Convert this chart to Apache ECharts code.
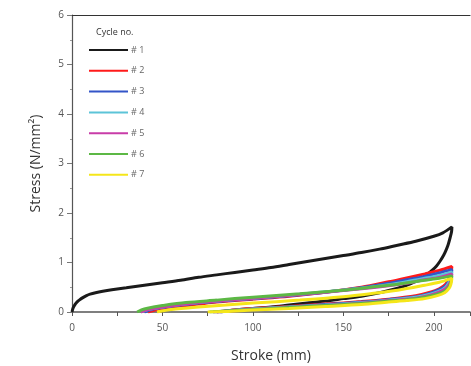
<!DOCTYPE html>
<html><head><meta charset="utf-8">
<script src="https://cdn.jsdelivr.net/npm/echarts@6/dist/echarts.min.js"></script>
<style>html,body{margin:0;padding:0;background:#fff}#c{width:471px;height:366px}</style>
</head><body><div id="c"></div>
<script>
var cycleNames = ['# 1','# 2','# 3','# 4','# 5','# 6','# 7'];
var cycleColors = ['#1a1a1a','#ff1a1a','#3355c8','#5cc4d8','#c83ca8','#5cb845','#f5e61a'];
var xTicks = [0,50,100,150,200];
var yTicks = [0,1,2,3,4,5,6];

var cycle1 = [[0,0],[0.5,0.07],[1,0.11],[2,0.17],[3,0.21],[4,0.24],[6,0.29],[8,0.33],[10,0.36],[13,0.39],[17,0.42],[22,0.45],[30,0.49],[40,0.54],[50,0.59],[60,0.64],[70,0.7],[80,0.75],[90,0.8],[100,0.85],[110,0.9],[120,0.96],[130,1.02],[140,1.08],[150,1.14],[160,1.2],[170,1.27],[180,1.35],[190,1.43],[200,1.53],[205,1.6],[210,1.72],
  [209.8,1.62],[209,1.5],[208,1.37],[207,1.27],[205.5,1.15],[203.5,1.03],[201.5,0.93],[199,0.84],[196,0.75],[192,0.66],[187,0.57],[180,0.48],[170,0.39],[160,0.32],[150,0.27],[140,0.22],[130,0.18],[120,0.14],[110,0.1],[100,0.07],[90,0.04],[82,0]];
var cycle2 = [[42,0],[46,0.04],[50,0.07],[60,0.12],[70,0.16],[80,0.2],[100,0.26],[120,0.32],[140,0.4],[160,0.5],[175,0.61],[185,0.69],[195,0.77],[203,0.84],[210,0.92],
  [209.5,0.8],[208.5,0.68],[206.5,0.56],[203,0.47],[198,0.4],[190,0.33],[175,0.26],[160,0.21],[140,0.16],[120,0.11],[100,0.07],[90,0.04],[80,0]];
var cycle3 = [[40,0],[44,0.05],[50,0.09],[60,0.14],[70,0.18],[80,0.21],[100,0.27],[120,0.33],[140,0.4],[160,0.49],[175,0.58],[185,0.65],[195,0.72],[203,0.79],[210,0.86],
  [209.5,0.75],[208.5,0.64],[206.5,0.53],[203,0.45],[198,0.38],[190,0.31],[175,0.25],[160,0.2],[140,0.15],[120,0.1],[100,0.06],[90,0.03],[80,0]];
var cycle4 = [[38,0],[42,0.05],[50,0.1],[60,0.15],[70,0.19],[80,0.22],[100,0.28],[120,0.34],[140,0.41],[160,0.48],[175,0.55],[185,0.61],[195,0.68],[203,0.74],[210,0.81],
  [209.5,0.7],[208.5,0.6],[206.5,0.5],[203,0.42],[198,0.36],[190,0.3],[175,0.24],[160,0.19],[140,0.14],[120,0.1],[100,0.06],[88,0.03],[78,0]];
var cycle5 = [[38,0],[42,0.05],[50,0.1],[60,0.15],[70,0.19],[80,0.22],[100,0.28],[120,0.34],[140,0.4],[160,0.47],[175,0.53],[185,0.58],[195,0.65],[203,0.7],[210,0.77],
  [209.5,0.66],[208.5,0.56],[206.5,0.47],[203,0.4],[198,0.34],[190,0.28],[175,0.23],[160,0.18],[140,0.13],[120,0.09],[100,0.05],[88,0.02],[78,0]];
var cycle6 = [[36,0],[40,0.06],[45,0.1],[50,0.13],[63,0.19],[80,0.24],[100,0.3],[126,0.37],[150,0.44],[165,0.5],[180,0.56],[195,0.64],[203,0.68],[210,0.73],
  [209.5,0.62],[208.5,0.52],[206,0.42],[202,0.36],[195,0.3],[185,0.25],[175,0.22],[160,0.17],[140,0.13],[120,0.09],[100,0.05],[85,0.02],[76,0]];
var cycle7 = [[47,0],[55,0.05],[70,0.1],[85,0.14],[100,0.18],[126,0.24],[150,0.31],[165,0.37],[180,0.44],[195,0.54],[203,0.6],[210,0.68],
  [209.5,0.57],[208.5,0.48],[206,0.39],[202,0.33],[195,0.27],[185,0.23],[175,0.2],[160,0.15],[140,0.11],[120,0.07],[100,0.04],[85,0.01],[75,0]];
var cycles = [cycle1,cycle2,cycle3,cycle4,cycle5,cycle6,cycle7];

var font = 'Open Sans';
var chart = echarts.init(document.getElementById('c'), null, {renderer:'canvas'});
chart.setOption({
  animation:false,
  backgroundColor:'#fff',
  title:{text:'Cycle no.', left:96, top:28, padding:0, textStyle:{fontSize:9, fontWeight:'normal', color:'#333', fontFamily:font}},
  legend:{
    orient:'vertical', left:89, top:44, padding:0, itemWidth:39, itemHeight:2, itemGap:8.8,
    icon:'rect',
    data:cycleNames,
    textStyle:{fontSize:9, color:'#666', fontFamily:font, lineHeight:12, padding:[0,0,0,-2]}
  },
  grid:{left:72, right:1, top:15, bottom:54, outerBoundsMode:'none', containLabel:false},
  xAxis:[{
    type:'value', min:0, max:220, interval:25,
    name:'Stroke (mm)', nameLocation:'middle', nameGap:37,
    nameTextStyle:{fontSize:14, color:'#333', fontFamily:font},
    axisLine:{onZero:false, lineStyle:{color:'#555', width:1.5}},
    axisTick:{show:true, inside:false, length:4, lineStyle:{color:'#555'}},
    axisLabel:{fontSize:10, color:'#555', fontFamily:font, margin:11,
      formatter:function(v){return xTicks.indexOf(v)>=0 ? String(v) : '';}},
    splitLine:{show:false}
  },{
    type:'value', position:'top', min:0, max:220,
    axisLine:{show:true, onZero:false, lineStyle:{color:'#333', width:1.2}},
    axisTick:{show:false}, axisLabel:{show:false}, splitLine:{show:false}
  }],
  yAxis:{
    type:'value', min:0, max:6, interval:1,
    name:'Stress (N/mm²)', nameLocation:'middle', nameGap:29,
    nameTextStyle:{fontSize:14, color:'#333', fontFamily:font},
    axisLine:{show:true, onZero:false, lineStyle:{color:'#555', width:1.2}},
    axisTick:{show:true, length:5, lineStyle:{color:'#777'}},
    minorTick:{show:true, splitNumber:2, length:2, lineStyle:{color:'#999'}},
    axisLabel:{fontSize:10, color:'#555', fontFamily:font, margin:8,
      formatter:function(v){return yTicks.indexOf(v)>=0 ? String(v) : '';}},
    splitLine:{show:false}
  },
  series: cycles.map(function(d,i){
    return {name:cycleNames[i], type:'line', data:d, symbol:'none', smooth:0.3,
      lineStyle:{color:cycleColors[i], width:3}, itemStyle:{color:cycleColors[i]}, z:2+i};
  })
});
</script></body></html>
